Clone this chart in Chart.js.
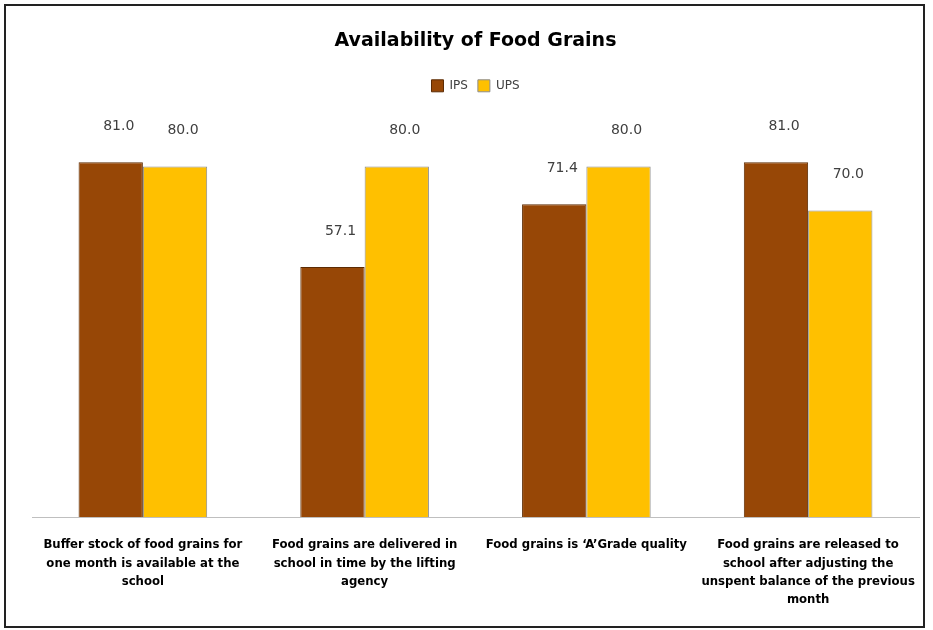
<!DOCTYPE html>
<html>
<head>
<meta charset="utf-8">
<script src="https://cdn.jsdelivr.net/npm/chart.js@4"></script>
<style>
  html, body { margin: 0; padding: 0; background: #fff; }
  #wrap { width: 933px; height: 630px; }
</style>
</head>
<body>
<div id="wrap"><canvas id="grainChart" width="933" height="630"></canvas></div>
<script>
// categories (already wrapped like the original)
const categories = [
    ['Buffer stock of food grains for', 'one month is available at the', 'school'],
    ['Food grains are delivered in', 'school in time by the lifting', 'agency'],
    ['Food grains is \u2018A\u2019Grade quality'],
    ['Food grains are released to', 'school after adjusting the', 'unspent balance of the previous', 'month']
];
const ipsValues = [81.0, 57.1, 71.4, 81.0];
const upsValues = [80.0, 80.0, 80.0, 70.0];

// value labels above bars
const valueLabels = {
    id: 'valueLabels',
    afterDatasetsDraw(chart) {
        const ctx = chart.ctx;
        ctx.save();
        ctx.font = '14px "DejaVu Sans", Verdana, sans-serif';
        ctx.fillStyle = '#404040';
        ctx.textAlign = 'center';
        ctx.textBaseline = 'middle';
        chart.data.datasets.forEach((ds, i) => {
            chart.getDatasetMeta(i).data.forEach((bar, j) => {
                ctx.fillText(ds.data[j].toFixed(1), bar.x + 8, bar.y - 36);
            });
        });
        ctx.restore();
    }
};

// outer frame
const frame = {
    id: 'frame',
    afterDraw(chart) {
        const ctx = chart.ctx;
        ctx.save();
        ctx.strokeStyle = '#222';
        ctx.lineWidth = 2;
        ctx.strokeRect(5, 5, 919, 622);
        ctx.restore();
    }
};

new Chart(document.getElementById('grainChart'), {
    type: 'bar',
    data: {
        labels: categories,
        datasets: [{
            label: 'IPS',
            data: ipsValues,
            backgroundColor: '#974706',
            borderColor: '#5c2b03',
            borderWidth: 1
        }, {
            label: 'UPS',
            data: upsValues,
            backgroundColor: '#FFC000',
            borderColor: '#8c8c8c',
            borderWidth: 1
        }]
    },
    options: {
        responsive: false,
        animation: false,
        layout: { padding: { left: 32, right: 14, top: 26, bottom: 0 } },
        datasets: { bar: { barPercentage: 1, categoryPercentage: 0.58 } },
        plugins: {
            title: {
                display: true,
                text: 'Availability of Food Grains',
                color: '#000',
                font: { family: '"DejaVu Sans", Verdana, sans-serif', size: 19, weight: 'bold' },
                padding: { top: 4, bottom: 17 }
            },
            legend: {
                labels: {
                    boxWidth: 12,
                    boxHeight: 12,
                    color: '#404040',
                    font: { family: '"DejaVu Sans", Verdana, sans-serif', size: 12 },
                    padding: 10
                }
            },
            tooltip: { enabled: false }
        },
        scales: {
            y: { display: false, min: 0, max: 94.8 },
            x: {
                grid: { display: false },
                border: { color: '#bfbfbf', width: 1 },
                ticks: {
                    color: '#000',
                    maxRotation: 0,
                    padding: 11,
                    font: { family: '"Liberation Sans Narrow", "DejaVu Sans Condensed", sans-serif', size: 13, weight: 'bold', lineHeight: 1.4 }
                },
                afterFit(scale) { scale.height = 113; }
            }
        }
    },
    plugins: [valueLabels, frame]
});
</script>
</body>
</html>
